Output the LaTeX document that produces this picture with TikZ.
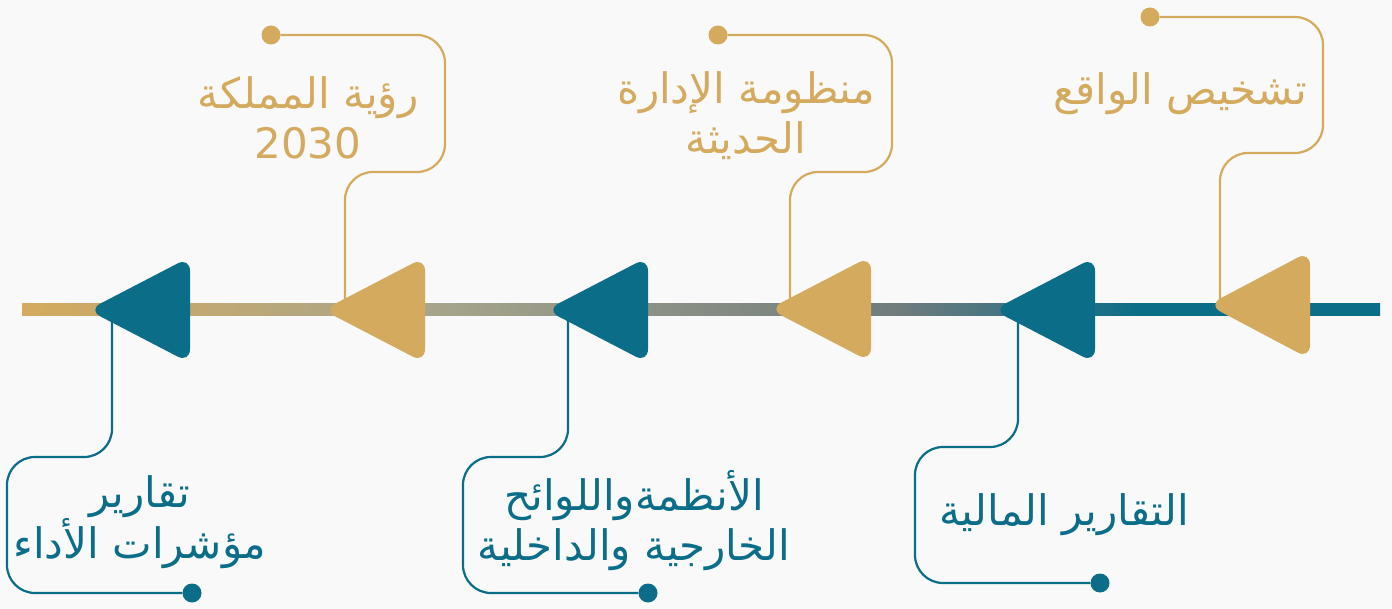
\documentclass[tikz,border=0pt]{standalone}
\usepackage{fontspec}
\newfontfamily\arabicfont[Script=Arabic]{DejaVu Sans}
\TeXXeTstate=1
\definecolor{cgold}{HTML}{D4AA5E}
\definecolor{cteal}{HTML}{0B6D88}
\definecolor{ckhaki}{HTML}{A8A68C}
\definecolor{cgray}{HTML}{6F7B7D}
\definecolor{cbg}{HTML}{F8F9F8}
\tikzset{
  conn/.style={line width=2.2pt, rounded corners=28pt},
  tri/.style={rounded corners=14pt},
  dotnode/.style={circle, inner sep=0pt, minimum size=19pt},
  lbl/.style={font=\arabicfont\fontsize{42}{50}\selectfont, align=center, inner sep=0pt},
}
\begin{document}
\begin{tikzpicture}[x=1pt,y=-1pt]
\fill[cbg] (0,0) rectangle (1392,609);
\useasboundingbox (0,0) rectangle (1392,609);

% main timeline
\shade[left color=cgold, right color=ckhaki] (22,304) rectangle (420.5,316);
\shade[left color=ckhaki, right color=cgray] (420,304) rectangle (900.5,316);
\shade[left color=cgray, right color=cteal] (900,304) rectangle (1140.5,316);
\shade[left color=cteal, right color=cteal] (1140,304) rectangle (1380,316);

% dots
\node[dotnode, fill=cgold] (d2) at (271,35) {};
\node[dotnode, fill=cgold] (d4) at (718,35) {};
\node[dotnode, fill=cgold] (d6) at (1150,17) {};
\node[dotnode, fill=cteal] (d1) at (192,593) {};
\node[dotnode, fill=cteal] (d3) at (648,593) {};
\node[dotnode, fill=cteal] (d5) at (1100,583) {};

% connector starts
\coordinate (s2) at (345,300);
\coordinate (s4) at (790,300);
\coordinate (s6) at (1220,300);
\coordinate (s1) at (112,318);
\coordinate (s3) at (568,318);
\coordinate (s5) at (1018,318);

% connectors
\draw[conn, cgold] (s2) -- (345,172) -- (445,172) -- (445,35) -- (d2);
\draw[conn, cgold] (s4) -- (790,172) -- (892,172) -- (892,35) -- (d4);
\draw[conn, cgold] (s6) -- (1220,153) -- (1323,153) -- (1323,17) -- (d6);
\draw[conn, cteal] (s1) -- (112,457) -- (7,457) -- (7,593) -- (d1);
\draw[conn, cteal] (s3) -- (568,457) -- (463,457) -- (463,593) -- (d3);
\draw[conn, cteal] (s5) -- (1018,447) -- (915,447) -- (915,583) -- (d5);

% triangles
\foreach \x/\c/\t/\b in {95/cteal/257/363, 330/cgold/257/363, 553/cteal/257/363, 776/cgold/256/362, 1000/cteal/257/363, 1215/cgold/251/359}{
  \fill[tri, \c] (\x-7,{(\t+\b)/2}) -- (\x+95,\t) -- (\x+95,\b) -- cycle;
}

% labels
\node[lbl, text=cgold] (t2) at (308,118) {\beginR رؤية المملكة\endR\\2030};
\node[lbl, text=cgold] (t4) at (746,116) {\beginR منظومة الإدارة\endR\\\beginR الحديثة\endR};
\node[lbl, text=cgold] (t6) at (1180,94) {\beginR تشخيص الواقع\endR};
\node[lbl, text=cteal] (t1) at (140,522) {\beginR تقارير\endR\\\beginR مؤشرات الأداء\endR};
\node[lbl, text=cteal] (t3) at (634,521) {\beginR الأنظمةواللوائح\endR\\\beginR الخارجية والداخلية\endR};
\node[lbl, text=cteal] (t5) at (1064,515) {\beginR التقارير المالية\endR};
\end{tikzpicture}
\end{document}
